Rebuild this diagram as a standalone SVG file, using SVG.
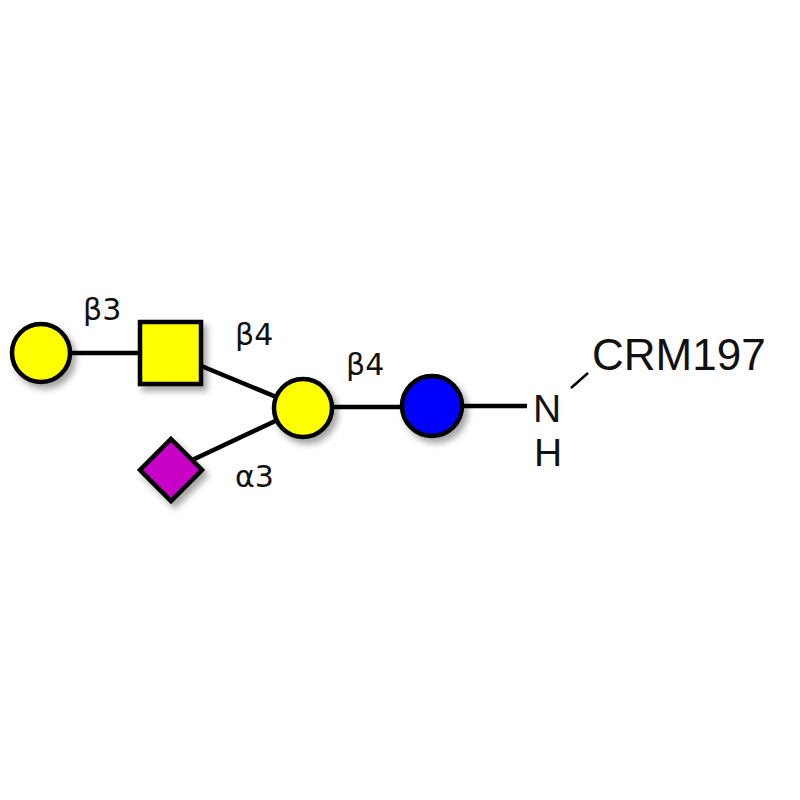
<svg xmlns="http://www.w3.org/2000/svg" width="800" height="800" viewBox="0 0 800 800">
<defs>
<filter id="sh" x="-30%" y="-30%" width="170%" height="170%">
<feDropShadow dx="4" dy="5" stdDeviation="3" flood-color="#000" flood-opacity="0.35"/>
</filter>
<style>
.ln{stroke:#000;stroke-width:4.5;fill:none}
.sym{stroke:#000;stroke-width:4.5}
.lab{font-family:"DejaVu Sans",sans-serif;font-size:30px;fill:#111}
.chem{font-family:"Liberation Sans",Arial,sans-serif;font-size:44px;fill:#111}
.nh{font-family:"Liberation Sans",Arial,sans-serif;font-size:39px;fill:#111}
</style>
</defs>
<rect width="800" height="800" fill="#fff"/>
<g id="connectors">
<line class="ln" x1="41" y1="353" x2="170" y2="353"/>
<line class="ln" x1="170" y1="353" x2="303" y2="408"/>
<line class="ln" x1="171" y1="470" x2="303" y2="408"/>
<line class="ln" x1="303" y1="407" x2="432" y2="407"/>
<line class="ln" x1="432" y1="406" x2="527" y2="406"/>
<line stroke="#000" stroke-width="2.5" x1="571" y1="388" x2="588" y2="373"/>
</g>
<g id="gal1"><circle class="sym" cx="41" cy="353" r="29" fill="#ffff00" filter="url(#sh)"/></g>
<g id="galnac"><rect class="sym" x="140" y="322" width="61" height="62" fill="#ffff00" filter="url(#sh)"/></g>
<g id="gal2"><circle class="sym" cx="303" cy="408" r="29" fill="#ffff00" filter="url(#sh)"/></g>
<g id="neu5ac"><polygon class="sym" points="171,439 202,470 171,501 140,470" fill="#c800c8" filter="url(#sh)"/></g>
<g id="glc"><circle class="sym" cx="432" cy="406" r="30" fill="#0000ff" filter="url(#sh)"/></g>
<g id="labels">
<text class="lab" x="83" y="320">β3</text>
<text class="lab" x="235" y="345">β4</text>
<text class="lab" x="346" y="375">β4</text>
<text class="lab" x="235" y="487">α3</text>
</g>
<g id="linker">
<text class="nh" x="533" y="422">N</text>
<text class="nh" x="534" y="466">H</text>
<text class="chem" x="592" y="370">CRM197</text>
</g>
</svg>
